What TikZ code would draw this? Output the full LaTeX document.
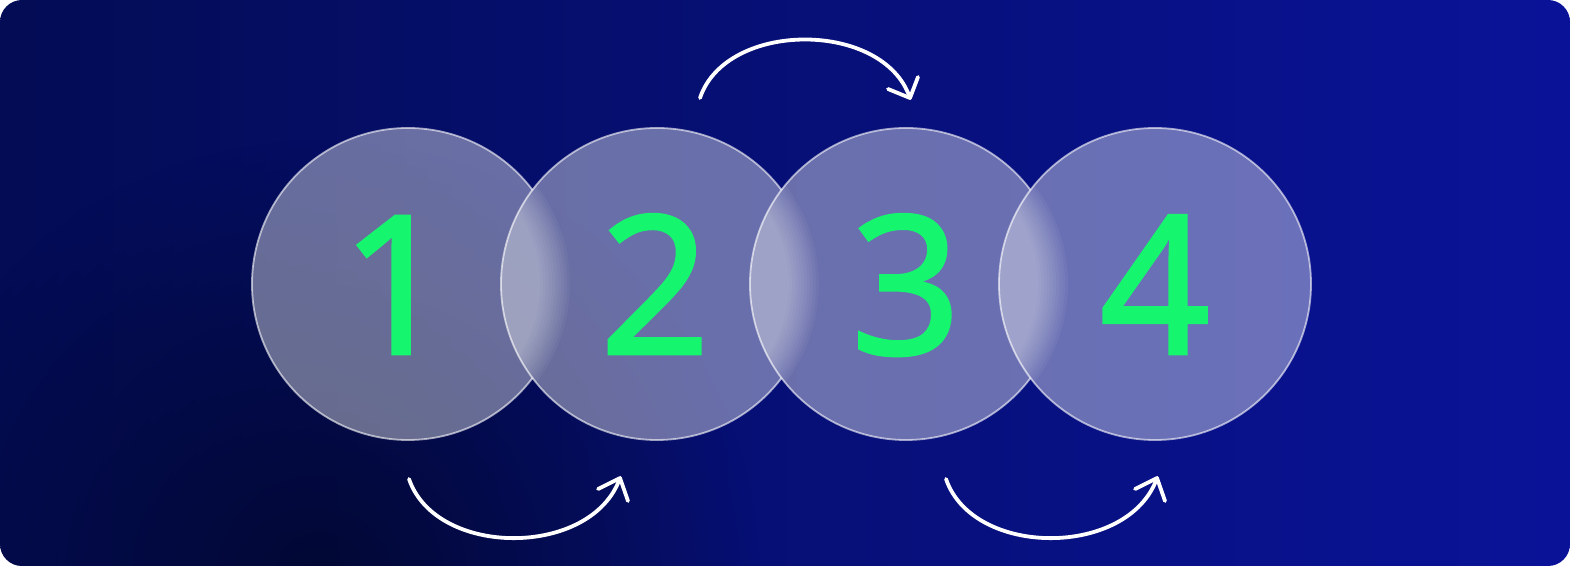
\documentclass[tikz,border=0pt]{standalone}
\usepackage{fontspec}
\setmainfont{Noto Sans}
\newfontfamily\digitfont[FakeBold=1.5]{Noto Sans}
\usetikzlibrary{fadings}
\definecolor{bgL}{RGB}{3,12,84}
\definecolor{bgR}{RGB}{10,19,152}
\definecolor{bgD}{RGB}{1,6,36}
\definecolor{numgreen}{RGB}{22,245,110}
\tikzfading[name=softspot, inner color=transparent!25, outer color=transparent!100]
\tikzset{
  glass/.style={fill=white, fill opacity=0.4},
  rim/.style={draw=white, draw opacity=0.6, line width=0.9pt},
  digit/.style={text=numgreen, font=\digitfont\fontsize{96.5}{96.5}\selectfont, anchor=base, inner sep=0pt},
  flow/.style={draw=white, line width=1.9pt, line cap=round, line join=round},
}
\begin{document}
\begin{tikzpicture}[x=0.5pt,y=-0.5pt]
\useasboundingbox (0,0) rectangle (1570,566);
% background
\begin{scope}
  \clip[rounded corners=11pt] (0,0) rectangle (1570,566);
  \shade[left color=bgL, right color=bgR] (0,0) rectangle (1570,566);
  \fill[bgD, path fading=softspot] (320,580) circle (440);
\end{scope}
% circle centres
\coordinate (c1) at (408,284);
\coordinate (c2) at (657,284);
\coordinate (c3) at (906,284);
\coordinate (c4) at (1155,284);
% glass discs (each minus the next one)
\foreach \a/\b in {c1/c2,c2/c3,c3/c4}{
  \fill[glass] ([shift={(-37:156)}]\a) arc[start angle=-37, end angle=-323, radius=156]
     arc[start angle=143, end angle=217, radius=156] -- cycle;
}
\fill[glass] (c4) circle (156);
% soft overlaps
\foreach \a/\b in {c1/c2,c2/c3,c3/c4}{
  \begin{scope}
    \clip (\b) circle (156);
    \foreach \r in {132,135,...,162}
      \fill[white, fill opacity=0.045] (\a) circle (\r);
  \end{scope}
}
% rims
\foreach \a in {c1,c2,c3}{
  \draw[rim] ([shift={(-37:156)}]\a) arc[start angle=-37, end angle=-323, radius=156];
}
\draw[rim] (c4) circle (156);
% digits
\node[digit] (n1) at (396,354) {1};
\node[digit] (n2) at (655,354) {2};
\node[digit] (n3) at (906,354) {3};
\node[digit] (n4) at (1155,354) {4};
% arrows
\coordinate (s1) at (409,479);
\coordinate (t1) at (620,478);
\coordinate (l1) at (598,489);
\coordinate (r1) at (628,501);
\draw[flow] (s1) .. controls (436,558) and (592,558) .. (t1);
\draw[flow] (l1) -- (t1) -- (r1);
\coordinate (s2) at (700,98);
\coordinate (t2) at (910,98);
\coordinate (l2) at (888,89);
\coordinate (r2) at (918,77);
\draw[flow] (s2) .. controls (726,20) and (884,20) .. (t2);
\draw[flow] (l2) -- (t2) -- (r2);
\coordinate (s3) at (946,479);
\coordinate (t3) at (1157,478);
\coordinate (l3) at (1135,489);
\coordinate (r3) at (1165,501);
\draw[flow] (s3) .. controls (973,558) and (1129,558) .. (t3);
\draw[flow] (l3) -- (t3) -- (r3);
\end{tikzpicture}
\end{document}
